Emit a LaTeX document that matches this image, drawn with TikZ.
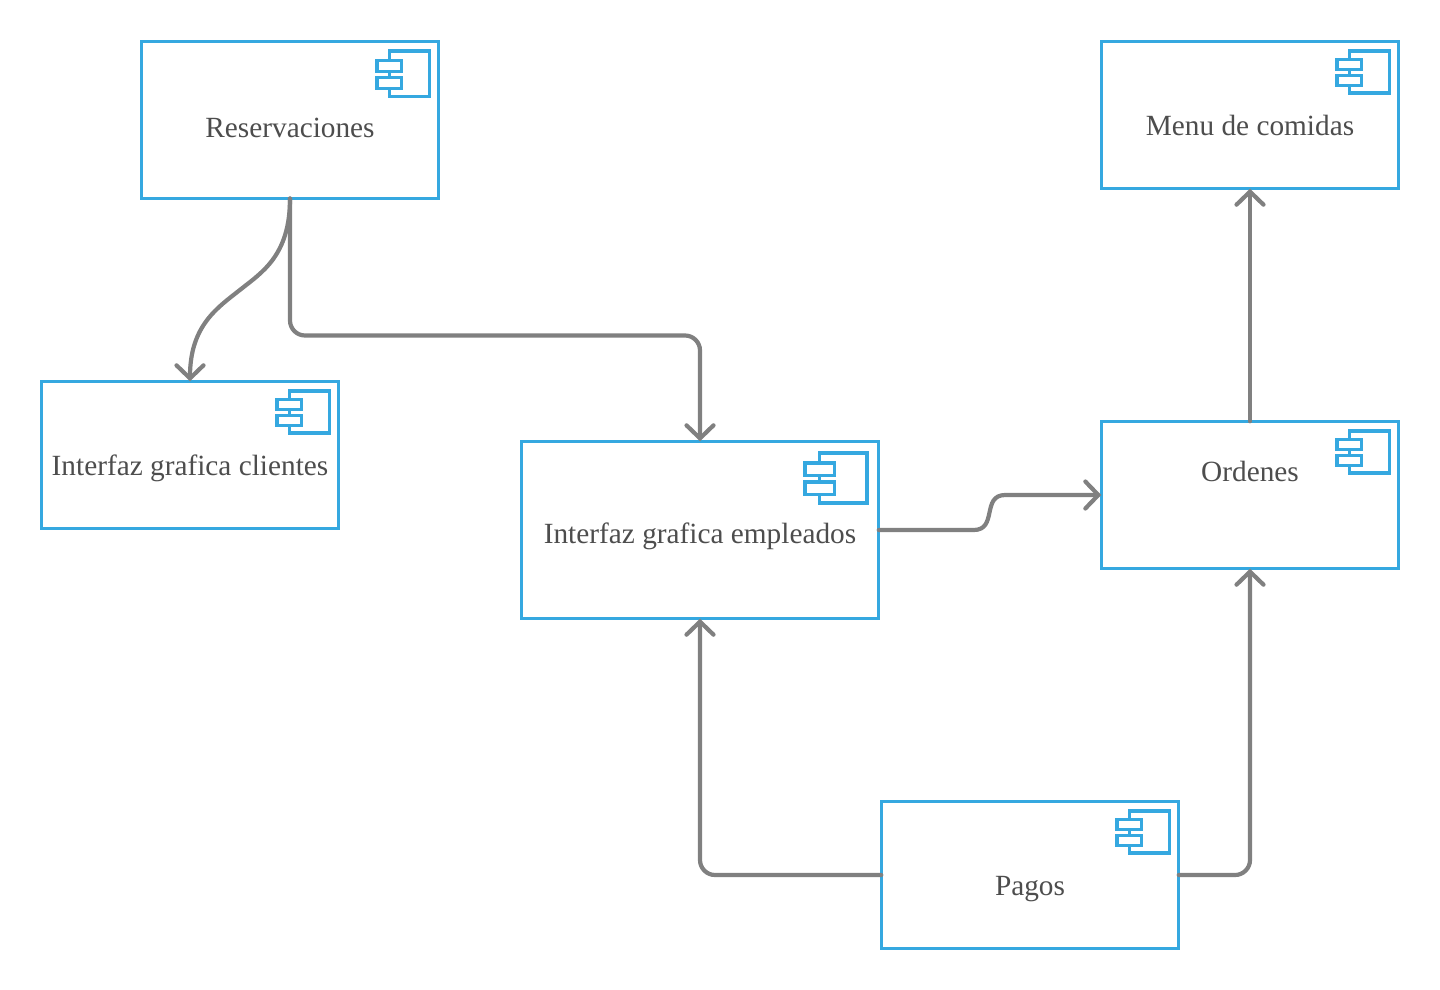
\documentclass[tikz,border=0pt]{standalone}
\usepackage{fontspec}
\setmainfont{Liberation Serif}
\usetikzlibrary{arrows.meta,calc}
\definecolor{compblue}{HTML}{35A8E0}
\definecolor{linkgray}{HTML}{808080}
\definecolor{labelgray}{HTML}{4D4D4D}
\tikzset{
    compbox/.style={draw=compblue,line width=3.1pt,fill=white,inner sep=0pt,outer sep=0pt},
    comptext/.style={text=labelgray,font=\fontsize{29.3}{33}\selectfont,anchor=base,inner sep=0pt},
    link/.style={draw=linkgray,line width=4.2pt,line cap=round,rounded corners=15pt},
    linkarrow/.style={link,-{Straight Barb[length=13pt,width=27pt,line cap=round]}},
    iconline/.style={draw=compblue,line width=3.1pt,fill=white},
}
\newcommand{\compicon}[4]{
    \begin{scope}[shift={(#1,#2)},x=#3pt,y=-#4pt]
        \draw [iconline] (.23,0) rectangle (1,1);
        \draw [iconline] (0,.2) rectangle (.47,.45);
        \draw [iconline] (0,.58) rectangle (.47,.83);
    \end{scope}
}
\begin{document}
\begin{tikzpicture}[x=1pt,y=-1pt]
    \useasboundingbox (0,0) rectangle (1440,990);
    \node [compbox,minimum width=297.5pt,minimum height=157pt] (reservaciones) at (290,120) {};
    \node [compbox,minimum width=297.5pt,minimum height=147.5pt] (clientes) at (190,455) {};
    \node [compbox,minimum width=357.5pt,minimum height=177.5pt] (empleados) at (700,530) {};
    \node [compbox,minimum width=297.5pt,minimum height=147.5pt] (ordenes) at (1250,495) {};
    \node [compbox,minimum width=297.5pt,minimum height=147.5pt] (menu) at (1250,115) {};
    \node [compbox,minimum width=297.5pt,minimum height=147.5pt] (pagos) at (1030,875) {};
    \node [comptext] (reservacionestxt) at (290,137) {Reservaciones};
    \node [comptext] (clientestxt) at (190,475) {Interfaz grafica clientes};
    \node [comptext] (empleadostxt) at (700,543) {Interfaz grafica empleados};
    \node [comptext] (ordenestxt) at (1250,481) {Ordenes};
    \node [comptext] (menutxt) at (1250,135) {Menu de comidas};
    \node [comptext] (pagostxt) at (1030,895) {Pagos};
    \compicon{377}{51}{52.5}{45.5}
    \compicon{277}{391}{52.5}{42}
    \compicon{805}{453}{62}{50}
    \compicon{1337}{431}{52.5}{42}
    \compicon{1337}{51}{52.5}{42}
    \compicon{1117}{811}{52.5}{42}
    \draw [linkarrow,sharp corners] (reservaciones.south) .. controls +(0,57) and +(22,-17.5) .. ($(reservaciones.south)!.5!(clientes.north)$)
        .. controls +(-22,17.5) and +(0,-56) .. (clientes.north);
    \draw [linkarrow] (reservaciones.south) -- ++(0,137) -| (empleados.north);
    \draw [linkarrow,sharp corners] (empleados.east) -- ++(95,0) .. controls +(24,0) and +(-24,0) .. ($(ordenes.west)+(-96,0)$) -- (ordenes.west);
    \draw [linkarrow] (ordenes.north) -- (menu.south);
    \draw [linkarrow] (pagos.west) -| (empleados.south);
    \draw [linkarrow] (pagos.east) -| (ordenes.south);
\end{tikzpicture}
\end{document}
